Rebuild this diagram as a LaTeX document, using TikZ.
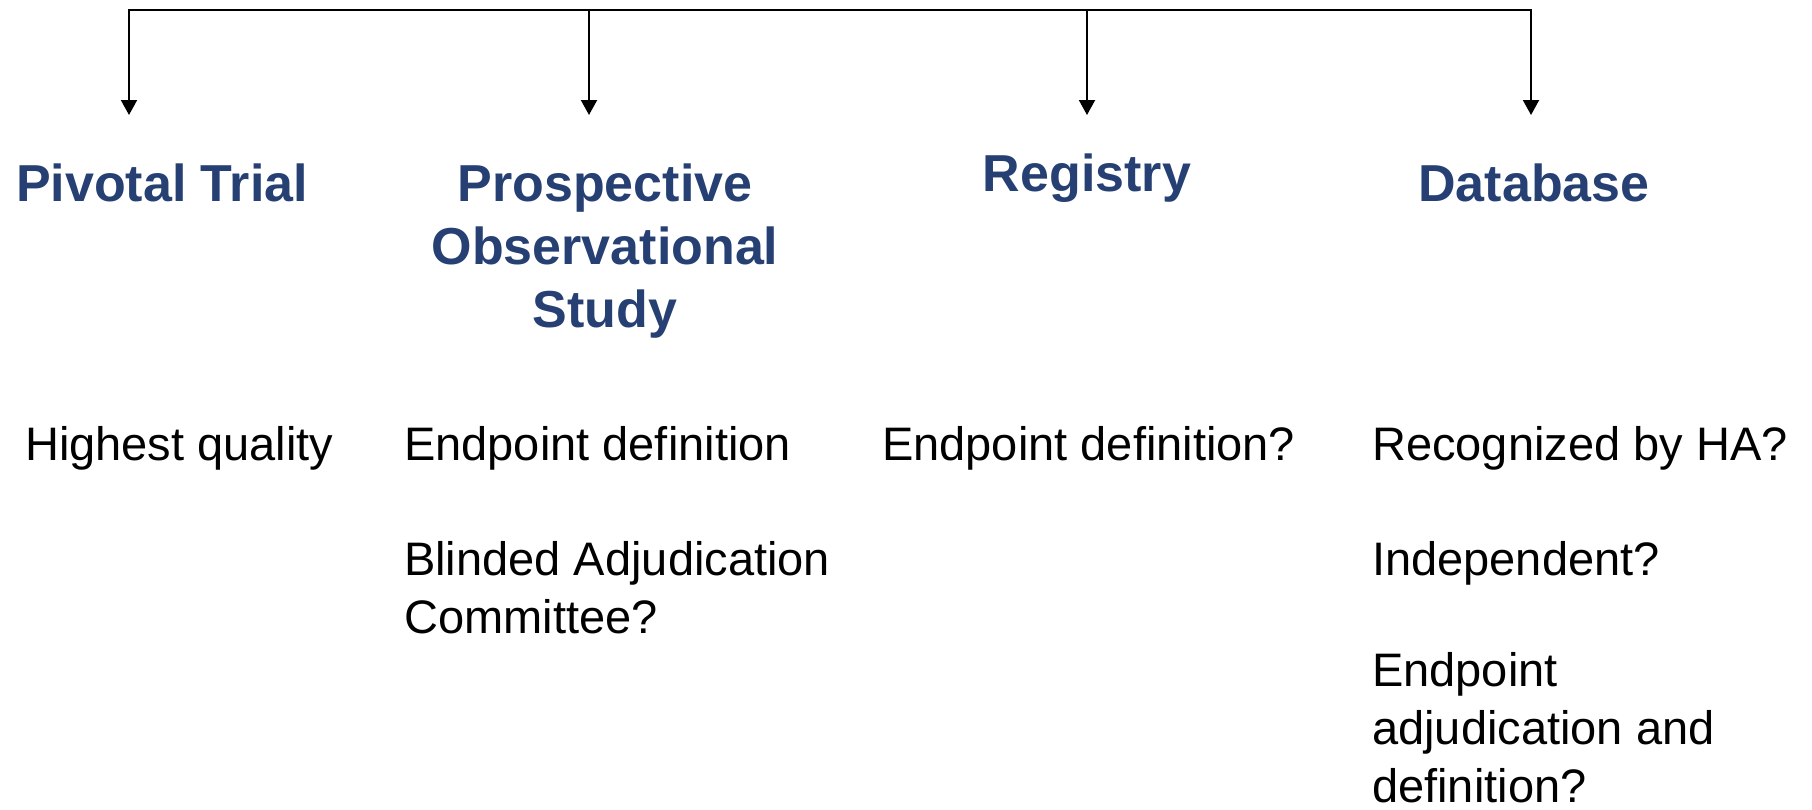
\documentclass[tikz,border=0pt]{standalone}
\usepackage{fontspec}
\setmainfont{Liberation Sans}
\usetikzlibrary{arrows.meta}
\definecolor{headblue}{RGB}{38,64,115}
\begin{document}
\begin{tikzpicture}[x=1pt,y=-1pt,
  bar/.style={line width=2pt,black,line cap=rect},
  arr/.style={line width=2pt,black,-{Triangle[length=15pt,width=16pt]}},
  head/.style={inner sep=0pt,anchor=base,align=center,text=headblue,
    font=\bfseries\fontsize{52}{63}\selectfont},
  body/.style={inner sep=0pt,anchor=base west,align=left,text=black,
    font=\fontsize{47}{58}\selectfont}]
\useasboundingbox (0,0) rectangle (1812,809);

% branch points on the top bar and arrow tips
\coordinate (t1) at (129,10);
\coordinate (t2) at (589,10);
\coordinate (t3) at (1087,10);
\coordinate (t4) at (1531,10);
\coordinate (e1) at (129,115);
\coordinate (e2) at (589,115);
\coordinate (e3) at (1087,115);
\coordinate (e4) at (1531,115);

\draw[bar] (t1) -- (t4);
\draw[arr] (t1) -- (e1);
\draw[arr] (t2) -- (e2);
\draw[arr] (t3) -- (e3);
\draw[arr] (t4) -- (e4);

% column headings (multi-line nodes sit on the baseline of their last line)
\node[head] (pivotal) at (162,201) {Pivotal Trial};
\node[head] (prosp) at (605,327) {Prospective\\Observational\\Study};
\node[head] (registry) at (1087,191) {Registry};
\node[head] (database) at (1534,201) {Database};

% column contents
\node[body] (hq) at (25,460) {Highest quality};
\node[body] (epd) at (404,460) {Endpoint definition};
\node[body] (bac) at (404,633) {Blinded Adjudication\\Committee?};
\node[body] (epdq) at (882,460) {Endpoint definition?};
\node[body] (rha) at (1372,460) {Recognized by HA?};
\node[body] (ind) at (1372,575) {Independent?};
\node[body] (ead) at (1372,802) {Endpoint\\adjudication and\\definition?};
\end{tikzpicture}
\end{document}
